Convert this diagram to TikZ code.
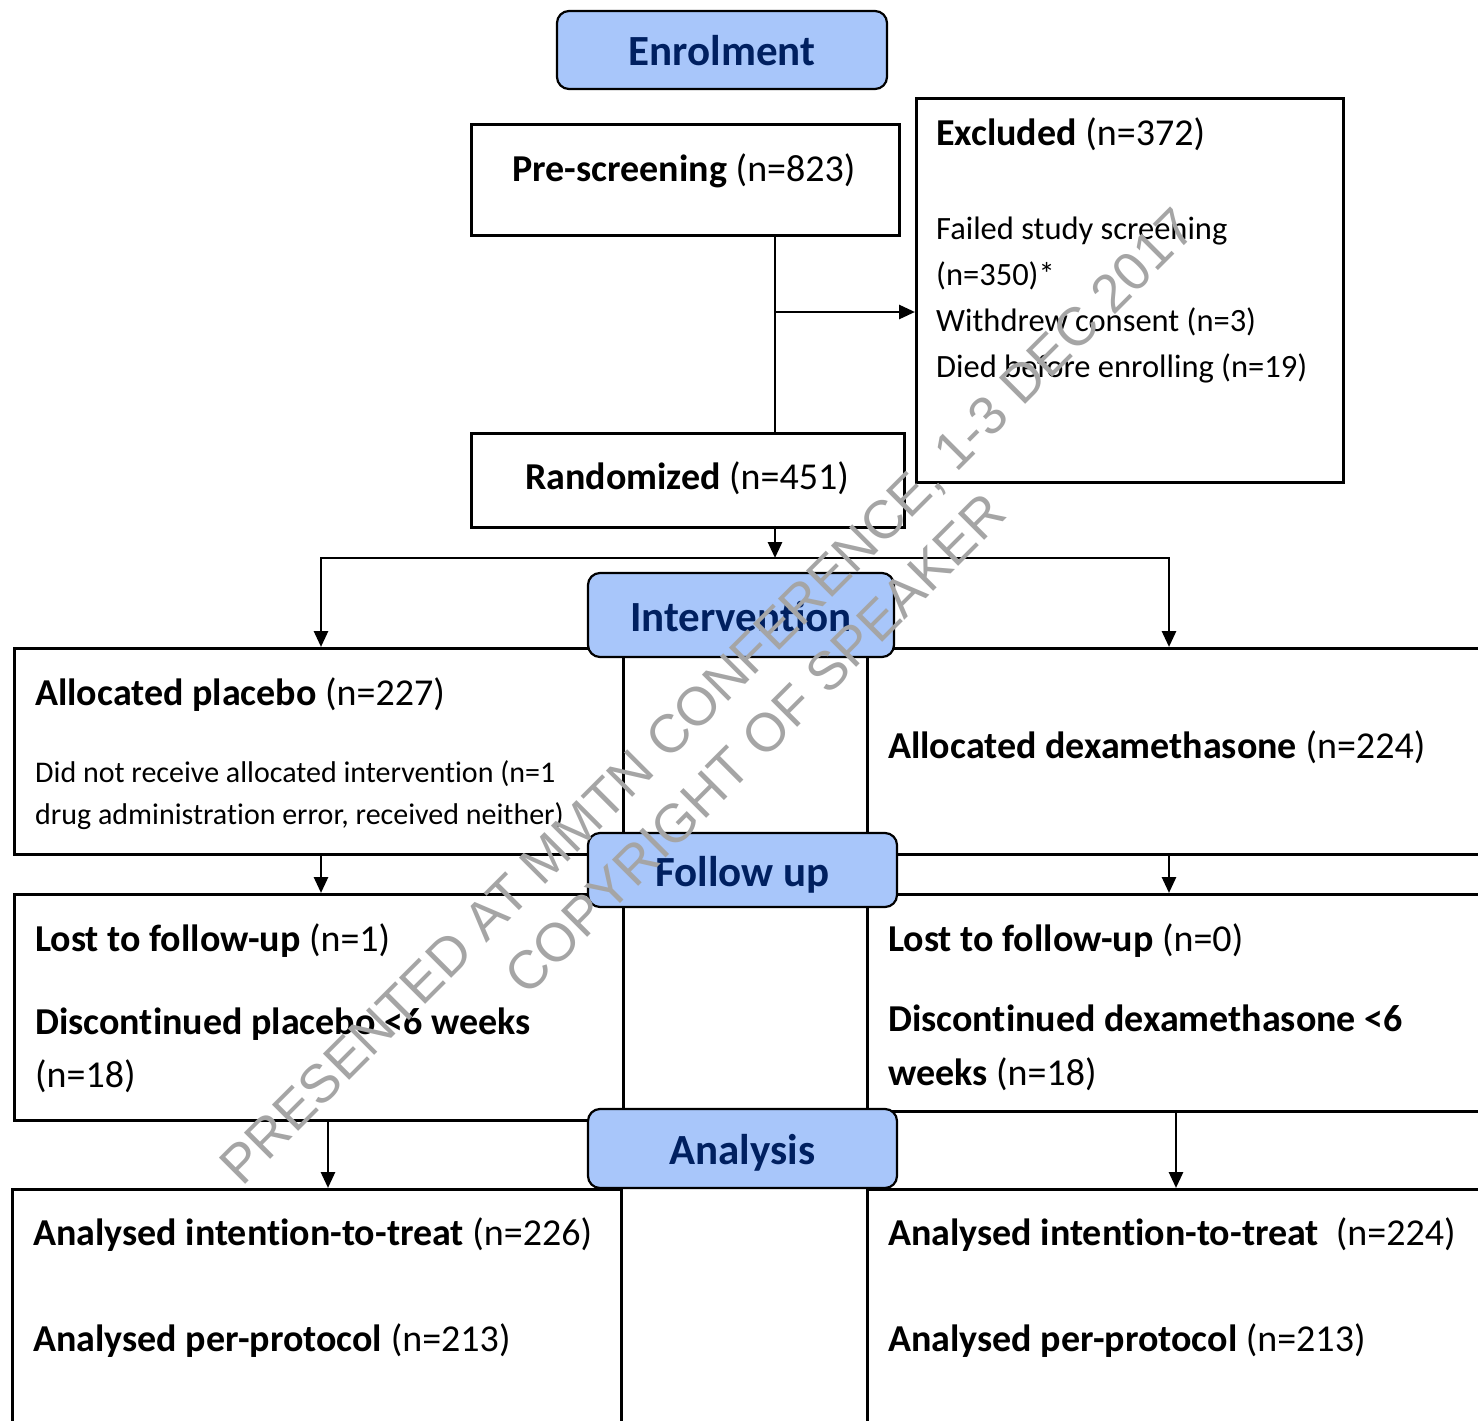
\documentclass[tikz,border=0pt]{standalone}
\usepackage{fontspec}
\setmainfont{Carlito}[Ligatures={TeX,NoCommon}]
\newfontfamily\wmfont{Liberation Sans}
\usetikzlibrary{arrows.meta}

\definecolor{stagefill}{RGB}{168,198,250}
\definecolor{stagetext}{RGB}{0,32,96}
\definecolor{wmgray}{RGB}{165,165,165}

\tikzset{
	box/.style={draw, line width=2.8pt, anchor=north west, inner sep=0pt},
	stage/.style={draw, line width=2.2pt, rounded corners=12pt, fill=stagefill, text=stagetext,
		font=\fontsize{43}{50}\selectfont\bfseries, text height=40pt, text depth=8pt},
	txt/.style={anchor=base west, inner sep=0pt, font=\fontsize{38}{46}\selectfont},
	small/.style={anchor=base west, inner sep=0pt, font=\fontsize{32.5}{40}\selectfont},
	link/.style={line width=2.8pt},
	arr/.style={line width=2.8pt, -{Triangle[length=16pt,width=14pt]}}
}

\begin{document}
\begin{tikzpicture}[x=1pt,y=-1pt]
							
							\useasboundingbox (0,0) rectangle (1478,1421);
							\clip (0,0) rectangle (1478,1421);
							
							% boxes
							\node[box, minimum width=428pt, minimum height=111pt] (prescreen) at (470,123) {};
							\node[box, minimum width=427pt, minimum height=384pt] (excluded) at (915,97) {};
							\node[box, minimum width=433pt, minimum height=94pt] (random) at (470,432) {};
							\node[box, minimum width=609pt, minimum height=206pt] (placebo) at (13,647) {};
							\node[box, minimum width=630pt, minimum height=206pt] (dexa) at (866,647) {};
							\node[box, minimum width=609pt, minimum height=226pt] (lostP) at (13,893) {};
							\node[box, minimum width=630pt, minimum height=217pt] (lostD) at (866,893) {};
							\node[box, minimum width=609pt, minimum height=250pt] (itP) at (11,1188) {};
							\node[box, minimum width=630pt, minimum height=250pt] (itD) at (866,1188) {};
							
							% texts
							\node[txt, anchor=base] (pretxt) at (684,181) {\textbf{Pre-screening} (n=823)};
							\node[txt] (exctxt) at (936,145) {\textbf{Excluded} (n=372)};
							\foreach \y/\line [count=\i] in {239/Failed study screening, 285/(n=350)*,
								331/Withdrew consent (n=3), 377/Died before enrolling (n=19)}
							{
								\node[small] (exc\i) at (936,\y) {\line};
							};
							\node[txt, anchor=base] (randtxt) at (687,489) {\textbf{Randomized} (n=451)};
							\node[txt] (plctxt) at (35,705) {\textbf{Allocated placebo} (n=227)};
							\node[small, font=\fontsize{30}{36}\selectfont] (plcnote1) at (35,782) {Did not receive allocated intervention (n=1};
							\node[small, font=\fontsize{30}{36}\selectfont] (plcnote2) at (35,824) {drug administration error, received neither)};
							\node[txt] (dextxt) at (888,758) {\textbf{Allocated dexamethasone} (n=224)};
							\node[txt] (lostPtxt) at (35,951) {\textbf{Lost to follow-up} (n=1)};
							\node[txt] (discP1) at (35,1034) {\textbf{Discontinued placebo <6 weeks}};
							\node[txt] (discP2) at (35,1087) {(n=18)};
							\node[txt] (lostDtxt) at (888,951) {\textbf{Lost to follow-up} (n=0)};
							\node[txt] (discD1) at (888,1031) {\textbf{Discontinued dexamethasone <6}};
							\node[txt] (discD2) at (888,1085) {\textbf{weeks} (n=18)};
							\node[txt] (ittP) at (33,1245) {\textbf{Analysed intention-to-treat} (n=226)};
							\node[txt] (ppP) at (33,1351) {\textbf{Analysed per-protocol} (n=213)};
							\node[txt] (ittD) at (888,1245) {\textbf{Analysed intention-to-treat}\ \ (n=224)};
							\node[txt] (ppD) at (888,1351) {\textbf{Analysed per-protocol} (n=213)};
							
							% connectors
							\coordinate (trunk) at (775,0);
							\coordinate (split) at (775,312);
							\coordinate (bar) at (775,558);
							\coordinate (leftcol) at (321,0);
							\coordinate (rightcol) at (1169,0);
							\coordinate (leftcol2) at (328,0);
							\coordinate (rightcol2) at (1176,0);
							
							\draw[link] (prescreen.south -| trunk) -- (random.north -| trunk);
							\draw[arr] (split) -- (split -| excluded.west);
							\draw[arr] (random.south -| trunk) -- (bar);
							\draw[arr] (bar) -| (placebo.north -| leftcol);
							\draw[arr] (bar) -| (dexa.north -| rightcol);
							\draw[arr] (placebo.south -| leftcol) -- (lostP.north -| leftcol);
							\draw[arr] (dexa.south -| rightcol) -- (lostD.north -| rightcol);
							\draw[arr] (lostP.south -| leftcol2) -- (itP.north -| leftcol2);
							\draw[arr] (lostD.south -| rightcol2) -- (itD.north -| rightcol2);
							
							% stages
							\node[stage, minimum width=330pt, minimum height=78pt] (enrol) at (722,50) {Enrolment};
							\node[stage, minimum width=306pt, minimum height=84pt] (interv) at (741,615) {Intervention};
							\node[stage, minimum width=309pt, minimum height=74pt] (follow) at (742.5,870) {Follow up};
							\node[stage, minimum width=309pt, minimum height=79pt] (analysis) at (742.5,1148.5) {Analysis};
							
							% watermark
							\node[rotate=45, text=wmgray, align=center, inner sep=0pt,
								font=\wmfont\fontsize{54}{67}\selectfont] (stamp) at (731,720)
								{PRESENTED AT MMTN CONFERENCE, 1-3 DEC 2017\\COPYRIGHT OF SPEAKER};
							
							\end{tikzpicture}
\end{document}
